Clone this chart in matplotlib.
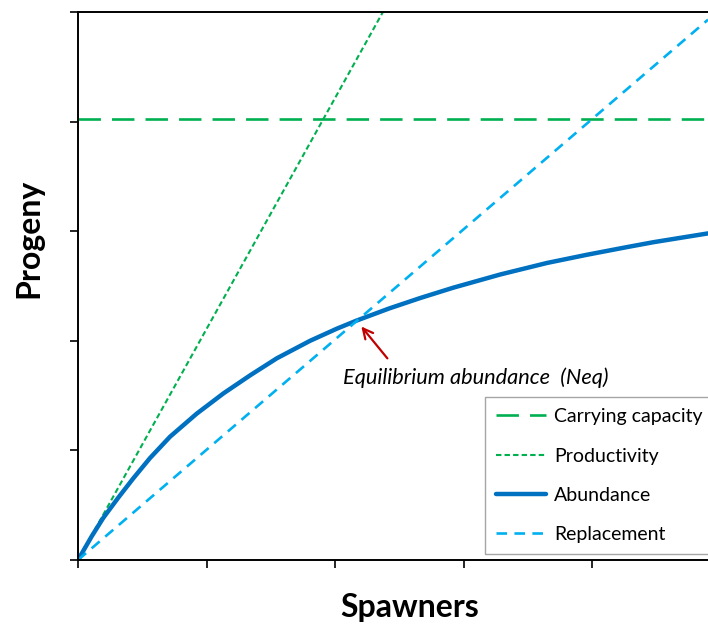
import numpy as np
import matplotlib.pyplot as plt

plt.rcParams['font.family'] = ['Lato', 'DejaVu Sans']

# values (tick spacing = 1 unit)
carrying_capacity = 4.02
productivity_x = [0, 2.4]
productivity_y = [0, 5.06]
replacement_x = [0, 4.9]
replacement_y = [0, 4.93]
abundance_x = [0, 0.106, 0.197, 0.314, 0.430, 0.560, 0.716, 0.923, 1.131,
               1.339, 1.546, 1.805, 2.012, 2.168, 2.420, 2.661, 2.92, 3.284,
               3.647, 3.958, 4.27, 4.477, 4.9]
abundance_y = [0, 0.215, 0.385, 0.57, 0.745, 0.93, 1.125, 1.335, 1.52,
               1.685, 1.84, 2.0, 2.11, 2.185, 2.295, 2.39, 2.485, 2.605,
               2.71, 2.785, 2.855, 2.9, 2.98]
x_ticks = [0, 1, 2, 3, 4]
y_ticks = [0, 1, 2, 3, 4, 5]

fig = plt.figure(figsize=(7.08, 6.25), dpi=100)
ax = fig.add_axes([78/708, 1 - 560/625, 630/708, 548/625])

ax.axhline(carrying_capacity, color='#00B050', lw=1.9, dashes=(8.5, 4.2),
           label='Carrying capacity')
ax.plot(productivity_x, productivity_y, color='#00B050', lw=1.5,
        dashes=(2.6, 1.5), label='Productivity')
ax.plot(abundance_x, abundance_y, color='#0070C0', lw=3.2,
        solid_capstyle='round', solid_joinstyle='round', label='Abundance')
ax.plot(replacement_x, replacement_y, color='#00B0F0', lw=1.9,
        dashes=(4, 2.8), label='Replacement')

ax.annotate('', xy=(2.19, 2.15), xytext=(2.42, 1.82),
            arrowprops=dict(arrowstyle='->', color='#C00000', lw=1.6,
                            mutation_scale=18))
ax.text(3.09, 1.66, 'Equilibrium abundance  (Neq)', style='italic',
        fontsize=15.7, ha='center', va='center')

ax.set_xlim(0, 4.9)
ax.set_ylim(0, 5)
ax.set_xticks(x_ticks)
ax.set_yticks(y_ticks)
ax.set_xticklabels([])
ax.set_yticklabels([])
ax.tick_params(direction='out', length=6, width=1.2)
ax.spines['right'].set_visible(False)
for s in ['left', 'bottom', 'top']:
    ax.spines[s].set_linewidth(1.4)

ax.set_xlabel('Spawners', fontsize=23, fontweight='bold', va='center')
ax.set_ylabel('Progeny', fontsize=23, fontweight='bold', va='center')
ax.xaxis.set_label_coords(0.527, -0.086)
ax.yaxis.set_label_coords(-0.0786, 0.586)

leg = ax.legend(loc='lower left', bbox_to_anchor=(0.646, 0.011),
                borderaxespad=0, fontsize=14, fancybox=False,
                edgecolor='#A6A6A6', handlelength=2.6, handletextpad=0.4,
                labelspacing=1.15, borderpad=0.55, framealpha=1)
leg.get_frame().set_linewidth(1.0)

plt.savefig('out.png', dpi=100)
